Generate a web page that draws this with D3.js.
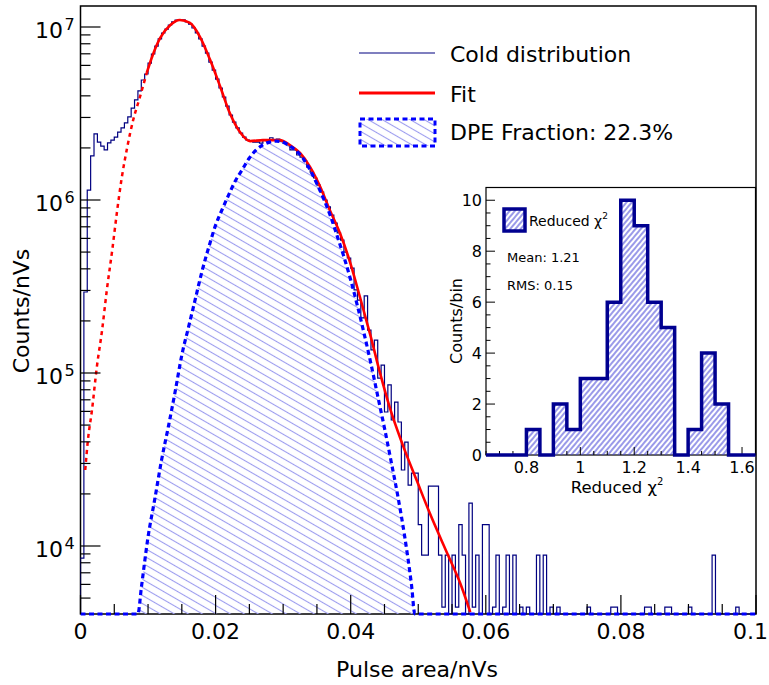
<!DOCTYPE html>
<html>
<head>
<meta charset="utf-8">
<script src="https://cdn.jsdelivr.net/npm/d3@7"></script>
<style>
body { margin: 0; background: #fff; }
svg { display: block; font-family: "DejaVu Sans", sans-serif; }
</style>
</head>
<body>
<div id="chart"></div>
<script>
// cold distribution histogram, bins of 0.0005 nVs from 0 to 0.1 (counts/nVs)
var binWidth = 0.0005;
var coldCounts = [
	8500, 294000, 1140000, 1800000, 2410000, 2160000, 2050000, 1950000, 2140000, 2220000,
	2310000, 2470000, 2610000, 2790000, 3020000, 3400000, 3790000, 4270000, 4940000, 5350000,
	6190000, 6980000, 7760000, 8530000, 9230000, 9730000, 10270000, 10700000, 10970000, 10970000,
	11000000, 10700000, 10400000, 9870000, 9230000, 8530000, 7760000, 7070000, 6270000, 5640000,
	5000000, 4440000, 3940000, 3490000, 3100000, 2820000, 2610000, 2440000, 2310000, 2220000,
	2190000, 2160000, 2160000, 2130000, 2220000, 2190000, 2290000, 2220000, 2250000, 2190000,
	2130000, 2080000, 1950000, 1950000, 1820000, 1770000, 1680000, 1550000, 1450000, 1340000,
	1220000, 1110000, 1000000, 912000, 819000, 736000, 645000, 587000, 500000, 462000,
	404000, 302000, 264000, 208000, 279000, 177000, 136000, 155000, 93500, 111000,
	59500, 85300, 53500, 67900, 52100, 27500, 39900, 22500, 26400, 26400,
	13300, 8860, 8860, 22200, 22200, 22200, 8860, 4430, 8860, 0,
	8860, 4430, 13300, 8860, 0, 17700, 4430, 8860, 0, 13300,
	13300, 0, 4430, 8860, 0, 4430, 8860, 0, 8860, 0,
	4430, 0, 4430, 0, 0, 8860, 0, 8860, 0, 4430,
	0, 4430, 0, 0, 0, 0, 0, 0, 0, 0,
	4430, 0, 0, 0, 0, 0, 0, 4430, 4430, 0,
	0, 0, 0, 0, 0, 0, 0, 4430, 4430, 0,
	0, 0, 0, 4430, 4430, 0, 0, 0, 0, 0,
	4430, 0, 0, 0, 0, 0, 0, 8860, 0, 0,
	0, 0, 0, 0, 4430, 0, 0, 0, 0, 0
];

// total fit
var fitX = [0.0007, 0.0011, 0.0017, 0.0024, 0.0032, 0.0039, 0.0047, 0.0054, 0.0061, 0.0069,
	0.0078, 0.0088, 0.0098, 0.0107, 0.0118, 0.0133, 0.0147, 0.0162, 0.0177, 0.0192,
	0.0207, 0.0221, 0.0236, 0.0251, 0.0270, 0.0295, 0.0310, 0.0325, 0.0340, 0.0355,
	0.0369, 0.0384, 0.0399, 0.0414, 0.0429, 0.0443, 0.0458, 0.0477, 0.0498, 0.0517,
	0.0544, 0.0562, 0.0577];
var fitY = [27500, 41000, 61100, 106900, 177400, 302000, 514000, 853000, 1340000, 2000000,
	2900000, 3940000, 5420000, 6890000, 8640000, 10270000, 10980000, 10550000, 8750000, 6440000,
	4500000, 3180000, 2470000, 2190000, 2220000, 2220000, 2080000, 1870000, 1550000, 1190000,
	875000, 644000, 438000, 272000, 166000, 101400, 62800, 38400, 23800, 15500,
	8870, 6110, 4150];
var fitStart = 0.0098; // fit range begins here, dashed below

// DPE component (dashed blue, hatched)
var dpeX = [0, 0.0085, 0.009, 0.010, 0.011, 0.012, 0.013, 0.014, 0.015, 0.016, 0.017,
	0.018, 0.019, 0.020, 0.021, 0.022, 0.023, 0.024, 0.025, 0.026, 0.027,
	0.028, 0.029, 0.030, 0.031, 0.032, 0.033, 0.034, 0.035, 0.036, 0.037,
	0.038, 0.039, 0.040, 0.041, 0.042, 0.043, 0.044, 0.045, 0.046, 0.047,
	0.048, 0.049, 0.0495, 0.1];
var dpeY = [1, 3800, 5710, 11270, 18700, 31400, 48800, 77600, 127000, 184600, 268000,
	389000, 535000, 716000, 887000, 1084000, 1306000, 1510000, 1750000, 1945000, 2080000,
	2160000, 2190000, 2160000, 2050000, 1920000, 1730000, 1490000, 1240000, 1014000, 809000,
	619000, 469000, 345000, 244000, 168000, 113000, 73600, 48100, 30600, 19200,
	11300, 5960, 3800, 1];

var xTicks = [0, 0.02, 0.04, 0.06, 0.08, 0.1];
var xTickLabels = ["0", "0.02", "0.04", "0.06", "0.08", "0.1"];
var yDecades = [4, 5, 6, 7];
var legendLabels = ["Cold distribution", "Fit", "DPE Fraction: 22.3%"];

// inset: reduced chi2 histogram
var chiLow = 0.65, chiWidth = 0.05;
var chiCounts = [0, 0, 0, 1, 0, 2, 1, 3, 3, 6, 10, 9, 6, 5, 0, 1, 4, 2, 0, 0];
var chiXTicks = [0.8, 1, 1.2, 1.4, 1.6];
var chiXTickLabels = ["0.8", "1", "1.2", "1.4", "1.6"];
var chiYTicks = [0, 2, 4, 6, 8, 10];
var chiStats = ["Mean: 1.21", "RMS: 0.15"];

var W = 769, H = 685;
var svg = d3.select("#chart").append("svg").attr("width", W).attr("height", H);
var defs = svg.append("defs");

var plot = {left: 80.5, right: 756, top: 6, bottom: 614};
var yMin = 4045, yMax = 1.3225e7;
var x = d3.scaleLinear().domain([0, 0.1]).range([plot.left, plot.right]);
var y = d3.scaleLog().domain([yMin, yMax]).range([plot.bottom, plot.top]);
function yPos(v) { return y(Math.max(v, yMin)); }

defs.append("clipPath").attr("id", "plotclip")
	.append("rect")
	.attr("x", plot.left).attr("y", plot.top)
	.attr("width", plot.right - plot.left).attr("height", plot.bottom - plot.top + 2);

var hm = defs.append("pattern").attr("id", "hatchMain")
	.attr("patternUnits", "userSpaceOnUse")
	.attr("width", 12).attr("height", 7)
	.attr("patternTransform", "rotate(30)");
hm.append("line").attr("x1", 0).attr("y1", 3.5).attr("x2", 12).attr("y2", 3.5)
	.attr("stroke", "#9c9cee").attr("stroke-width", 1.1);

var hi = defs.append("pattern").attr("id", "hatchInset")
	.attr("patternUnits", "userSpaceOnUse")
	.attr("width", 8).attr("height", 4)
	.attr("patternTransform", "rotate(-50)");
hi.append("line").attr("x1", 0).attr("y1", 2).attr("x2", 8).attr("y2", 2)
	.attr("stroke", "#4646d6").attr("stroke-width", 1.1);

// frame
svg.append("rect")
	.attr("x", plot.left).attr("y", plot.top)
	.attr("width", plot.right - plot.left).attr("height", plot.bottom - plot.top)
	.attr("fill", "none").attr("stroke", "#000").attr("stroke-width", 1.5);

var g = svg.append("g").attr("clip-path", "url(#plotclip)");

// DPE hatch
var dpePts = dpeX.map(function(d, i) { return [d, dpeY[i]]; });
g.append("path")
	.attr("d", d3.area()
		.x(function(d) { return x(d[0]); })
		.y0(plot.bottom)
		.y1(function(d) { return yPos(d[1]); })
		.curve(d3.curveMonotoneX)(dpePts))
	.attr("fill", "url(#hatchMain)");

// cold histogram
var coldPts = coldCounts.map(function(v, i) { return [i * binWidth, v]; });
coldPts.push([coldCounts.length * binWidth, coldCounts[coldCounts.length - 1]]);
coldPts.unshift([0, 0]);
g.append("path")
	.attr("d", d3.line()
		.x(function(d) { return x(d[0]); })
		.y(function(d) { return yPos(d[1]); })
		.curve(d3.curveStepAfter)(coldPts))
	.attr("fill", "none").attr("stroke", "#000080").attr("stroke-width", 1.2);

// fit
var fitPts = fitX.map(function(d, i) { return [d, fitY[i]]; });
var fitLine = d3.line()
	.x(function(d) { return x(d[0]); })
	.y(function(d) { return yPos(d[1]); })
	.curve(d3.curveMonotoneX);
g.append("path")
	.attr("d", fitLine(fitPts.filter(function(d) { return d[0] <= fitStart; })))
	.attr("fill", "none").attr("stroke", "#ff0000").attr("stroke-width", 2.5)
	.attr("stroke-dasharray", "4,4");
g.append("path")
	.attr("d", fitLine(fitPts.filter(function(d) { return d[0] >= fitStart; })))
	.attr("fill", "none").attr("stroke", "#ff0000").attr("stroke-width", 2.6);

// DPE dashed line
g.append("path")
	.attr("d", d3.line()
		.x(function(d) { return x(d[0]); })
		.y(function(d) { return yPos(d[1]); })
		.curve(d3.curveMonotoneX)(dpePts))
	.attr("fill", "none").attr("stroke", "#0000ff").attr("stroke-width", 3.2)
	.attr("stroke-dasharray", "5,3.5");

// x ticks
var xMinor = d3.range(0, 0.10001, 0.005);
svg.selectAll(".xt").data(xMinor).enter().append("line")
	.attr("x1", function(d) { return x(d); }).attr("x2", function(d) { return x(d); })
	.attr("y1", plot.bottom)
	.attr("y2", function(d, i) { return plot.bottom - (i % 4 == 0 ? 19 : 10); })
	.attr("stroke", "#000").attr("stroke-width", 1.2);
// last label is pushed in so it stays inside the window
svg.selectAll(".xl").data(xTicks).enter().append("text")
	.attr("x", function(d, i) { return i == xTicks.length - 1 ? W - 1 : x(d); })
	.attr("y", 639)
	.attr("text-anchor", function(d, i) { return i == xTicks.length - 1 ? "end" : "middle"; })
	.attr("font-size", 22)
	.text(function(d, i) { return xTickLabels[i]; });

// y ticks (log)
var yMinor = [];
for (var e = 3; e <= 7; e++) {
	for (var m = 1; m <= 9; m++) {
		var v = m * Math.pow(10, e);
		if (v >= yMin && v <= yMax) yMinor.push({v: v, major: m == 1});
	}
}
svg.selectAll(".yt").data(yMinor).enter().append("line")
	.attr("x1", plot.left)
	.attr("x2", function(d) { return plot.left + (d.major ? 20 : 10); })
	.attr("y1", function(d) { return y(d.v); }).attr("y2", function(d) { return y(d.v); })
	.attr("stroke", "#000").attr("stroke-width", 1.2);
yDecades.forEach(function(d) {
	var yy = y(Math.pow(10, d));
	svg.append("text").attr("x", 63).attr("y", yy + 11)
		.attr("text-anchor", "end").attr("font-size", 22).text("10");
	svg.append("text").attr("x", 64.5).attr("y", yy + 3)
		.attr("font-size", 16).text(d);
});

// axis titles
svg.append("text").attr("x", 417).attr("y", 677)
	.attr("text-anchor", "middle").attr("font-size", 22).text("Pulse area/nVs");
svg.append("text").attr("transform", "translate(29,311) rotate(-90)")
	.attr("text-anchor", "middle").attr("font-size", 22).text("Counts/nVs");

// legend
var leg = svg.append("g");
leg.append("line").attr("x1", 359).attr("x2", 435).attr("y1", 53).attr("y2", 53)
	.attr("stroke", "#000080").attr("stroke-width", 1.2);
leg.append("line").attr("x1", 359).attr("x2", 435).attr("y1", 93).attr("y2", 93)
	.attr("stroke", "#ff0000").attr("stroke-width", 3);
leg.append("rect").attr("x", 360).attr("y", 119).attr("width", 75).attr("height", 27)
	.attr("fill", "url(#hatchMain)").attr("stroke", "#0000ff").attr("stroke-width", 3)
	.attr("stroke-dasharray", "5,3.5");
[61.5, 101.5, 140].forEach(function(b, i) {
	leg.append("text").attr("x", 450).attr("y", b).attr("font-size", 22).text(legendLabels[i]);
});

// ---- inset ----
var ins = {left: 486, right: 755.5, top: 187.5, bottom: 455};
var cx = d3.scaleLinear().domain([0.65, 1.65]).range([ins.left, ins.right]);
var cy = d3.scaleLinear().domain([0, 10.5]).range([ins.bottom, ins.top]);
var ig = svg.append("g");
ig.append("rect").attr("x", ins.left).attr("y", ins.top)
	.attr("width", ins.right - ins.left).attr("height", ins.bottom - ins.top)
	.attr("fill", "#fff").attr("stroke", "#000").attr("stroke-width", 1.2);

var chiPts = chiCounts.map(function(c, i) { return [chiLow + i * chiWidth, c]; });
chiPts.push([chiLow + chiCounts.length * chiWidth, 0]);
ig.append("path")
	.attr("d", d3.area()
		.x(function(d) { return cx(d[0]); })
		.y0(cy(0))
		.y1(function(d) { return cy(d[1]); })
		.curve(d3.curveStepAfter)(chiPts))
	.attr("fill", "url(#hatchInset)");

// ticks
var chiXMinor = d3.range(0.65, 1.6501, 0.05);
ig.selectAll(".cxt").data(chiXMinor).enter().append("line")
	.attr("x1", function(d) { return cx(d); }).attr("x2", function(d) { return cx(d); })
	.attr("y1", ins.bottom)
	.attr("y2", function(d) { var r = Math.round(d * 100) % 20; return ins.bottom - (r == 0 ? 8 : 4); })
	.attr("stroke", "#000").attr("stroke-width", 1);
var chiYMinor = d3.range(0, 10.51, 0.5);
ig.selectAll(".cyt").data(chiYMinor).enter().append("line")
	.attr("x1", ins.left)
	.attr("x2", function(d) { return ins.left + (d % 2 == 0 ? 9 : 4.5); })
	.attr("y1", function(d) { return cy(d); }).attr("y2", function(d) { return cy(d); })
	.attr("stroke", "#000").attr("stroke-width", 1);

ig.append("path")
	.attr("d", d3.line()
		.x(function(d) { return cx(d[0]); })
		.y(function(d) { return cy(d[1]); })
		.curve(d3.curveStepAfter)(chiPts))
	.attr("fill", "none").attr("stroke", "#000090").attr("stroke-width", 3.5);

ig.selectAll(".cxl").data(chiXTicks).enter().append("text")
	.attr("x", function(d) { return cx(d); }).attr("y", 473)
	.attr("text-anchor", "middle").attr("font-size", 16)
	.text(function(d, i) { return chiXTickLabels[i]; });
ig.selectAll(".cyl").data(chiYTicks).enter().append("text")
	.attr("x", 482).attr("y", function(d) { return cy(d) + 6; })
	.attr("text-anchor", "end").attr("font-size", 16)
	.text(function(d) { return d; });

var xt = ig.append("text").attr("x", 617).attr("y", 493)
	.attr("text-anchor", "middle").attr("font-size", 16.5);
xt.append("tspan").text("Reduced χ");
xt.append("tspan").attr("dy", -8).attr("font-size", 10).text("2");
ig.append("text").attr("transform", "translate(462,321) rotate(-90)")
	.attr("text-anchor", "middle").attr("font-size", 16).text("Counts/bin");

// inset legend
ig.append("rect").attr("x", 504).attr("y", 209).attr("width", 21).attr("height", 22)
	.attr("fill", "url(#hatchInset)").attr("stroke", "#000090").attr("stroke-width", 3.5);
var lt = ig.append("text").attr("x", 529).attr("y", 226).attr("font-size", 14);
lt.append("tspan").text("Reduced χ");
lt.append("tspan").attr("dy", -7).attr("font-size", 9).text("2");
ig.selectAll(".cst").data(chiStats).enter().append("text")
	.attr("x", 507).attr("y", function(d, i) { return 261.5 + i * 28.5; })
	.attr("font-size", 13).text(function(d) { return d; });
</script>
</body>
</html>
